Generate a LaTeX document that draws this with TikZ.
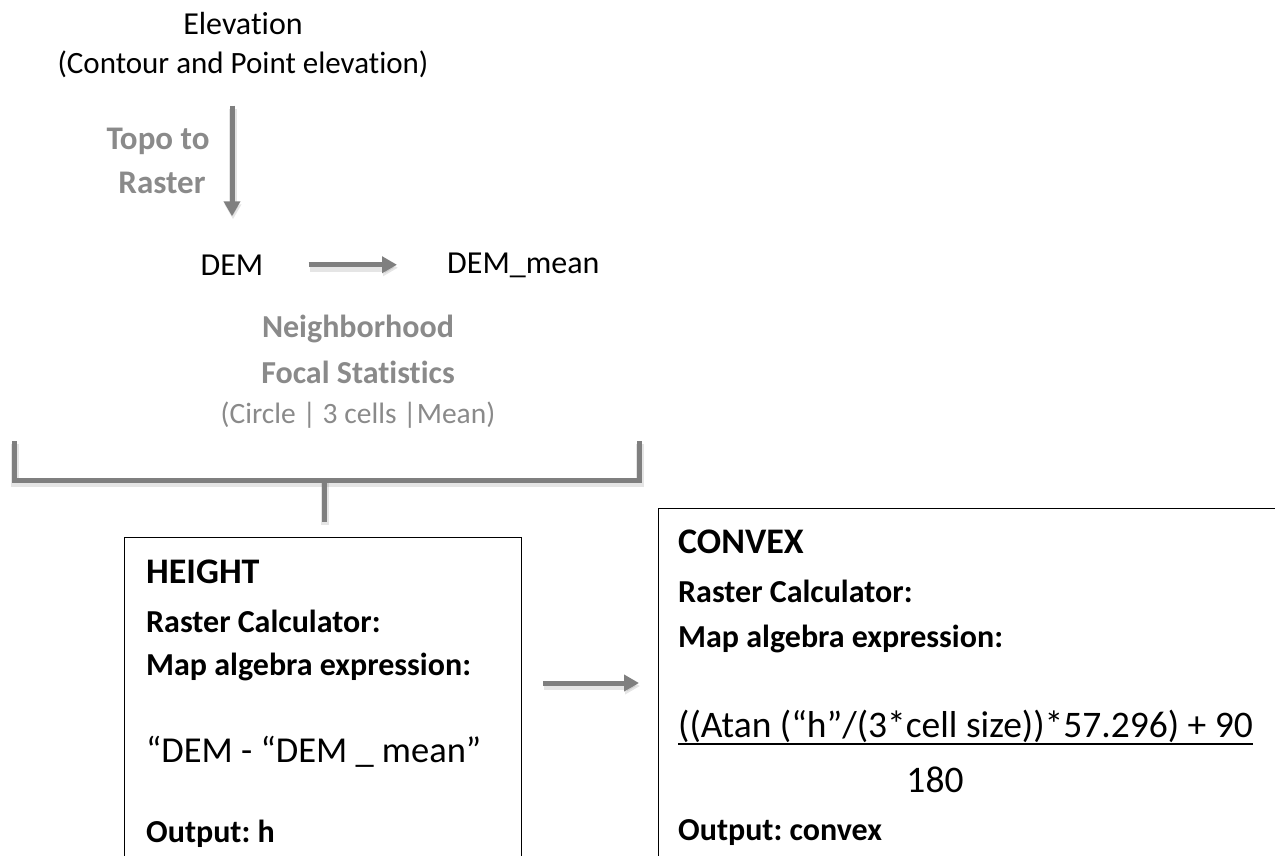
\documentclass[tikz,border=0pt]{standalone}
\usepackage{fontspec}
\setmainfont[Ligatures=NoCommon]{Carlito}
\frenchspacing
\usetikzlibrary{arrows.meta}
\definecolor{flowgray}{RGB}{127,127,127}
\definecolor{labelgray}{RGB}{138,138,138}
\tikzset{
  softshadow/.style={preaction={draw=black, opacity=0.10, line width=8pt, transform canvas={xshift=1pt,yshift=-3pt}}},
  flow/.style={draw=flowgray, line width=5pt, -{Triangle[length=15pt,width=16pt]}, softshadow},
  bracket/.style={draw=flowgray, line width=5pt, softshadow},
  plain/.style={anchor=base, inner sep=0pt, font=\fontsize{31}{37}\selectfont},
  tool/.style={anchor=base, inner sep=0pt, text=labelgray, font=\bfseries\fontsize{33}{38}\selectfont},
  toolsmall/.style={anchor=base, inner sep=0pt, text=labelgray, font=\bfseries\fontsize{32}{38}\selectfont},
  toolnote/.style={anchor=base, inner sep=0pt, text=labelgray, font=\fontsize{29.5}{36}\selectfont},
  calcbox/.style={draw, line width=1.3pt, anchor=north west, inner sep=0pt, minimum height=400pt},
  boxhead/.style={anchor=base west, inner sep=0pt, font=\bfseries\fontsize{36}{42}\selectfont},
  boxline/.style={anchor=base west, inner sep=0pt, font=\bfseries\fontsize{32}{38}\selectfont},
  expr/.style={anchor=base west, inner sep=0pt, font=\fontsize{37.5}{44}\selectfont},
}
\begin{document}
\begin{tikzpicture}[x=1pt,y=-1pt]
  \useasboundingbox (0,0) rectangle (1275,855);
  \clip (0,0) rectangle (1275,855);
  \draw
    (243,34) node[plain, font=\fontsize{32}{38}\selectfont] (elev) {Elevation}
    (243,73) node[plain] (src) {(Contour and Point elevation)}
    (158,149) node[tool] (topo) {Topo to}
    (162,193) node[tool] (raster) {Raster}
    (232,275) node[plain, font=\fontsize{32}{38}\selectfont] (dem) {DEM}
    (447,273) node[plain, anchor=base west, font=\fontsize{32}{38}\selectfont] (mean) {DEM\_mean}
    (358,337) node[toolsmall] (nbh) {Neighborhood}
    (358,383) node[toolsmall] (focal) {Focal Statistics}
    (358,423) node[toolnote] (opts) {(Circle | 3 cells |Mean)};
  % result boxes, open at the bottom edge
  \node[calcbox, minimum width=397pt] (height) at (124,537) {};
  \node[calcbox, minimum width=620pt] (convex) at (658,508) {};
  \draw
    (146,583) node[boxhead] (hhead) {HEIGHT}
    (146,632) node[boxline] (hcalc) {Raster Calculator:}
    (146,675) node[boxline] (hmap) {Map algebra expression:}
    (146,762) node[expr, font=\fontsize{36.5}{43}\selectfont] (hexpr) {“DEM - “DEM \_ mean”}
    (146,842) node[boxline] (hout) {Output: h}
    (678,553) node[boxhead] (chead) {CONVEX}
    (678,602) node[boxline] (ccalc) {Raster Calculator:}
    (678,647) node[boxline] (cmap) {Map algebra expression:}
    (678,737) node[expr] (cexpr) {((Atan (“h”/(3*cell size))*57.296) + 90}
    (935,792) node[expr, anchor=base] (cden) {180}
    (678,840) node[boxline] (cout) {Output: convex};
  \draw[line width=1.8pt] ([yshift=-7pt]cexpr.base west) -- ([yshift=-7pt]cexpr.base east);
  % connectors
  \begin{scope}
    \draw[flow, shorten <=28pt, shorten >=38pt] (src.south -| dem.north) -- (dem.north);
    \draw[flow, shorten <=45pt, shorten >=50pt] (dem.east) -- (dem.east -| mean.west);
    \draw[bracket] (14,441) |- (639,480) -- (639,441);
    \draw[bracket] (324,480) -- ([yshift=15pt]height.north -| 324,0);
    \draw[flow] ([shift={(21pt,-146pt)}]height.north east) -- ([shift={(-19pt,-175pt)}]convex.north west);
  \end{scope}
\end{tikzpicture}
\end{document}
